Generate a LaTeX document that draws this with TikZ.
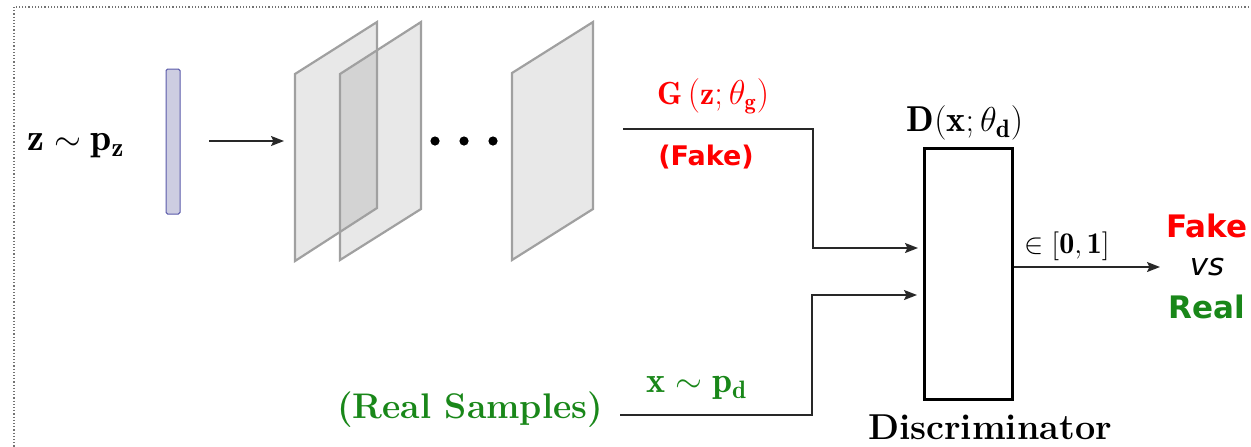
\documentclass[tikz,border=0pt]{standalone}
\usepackage{fontspec}
\usepackage{amsmath}
\newfontfamily\dejasans{DejaVu Sans}
\usetikzlibrary{arrows.meta}
\definecolor{fakered}{RGB}{255,0,0}
\definecolor{realgreen}{RGB}{25,135,25}
\definecolor{planeedge}{RGB}{160,160,160}
\definecolor{barfill}{RGB}{205,205,225}
\definecolor{baredge}{RGB}{90,90,170}
\definecolor{conn}{RGB}{40,40,40}
\tikzset{
  conline/.style={draw=conn, line width=0.8pt},
  arr/.style={conline, -{Stealth[length=6.5pt,width=5pt,inset=1.2pt]}},
  planefill/.style={fill=black, fill opacity=0.09, draw=none},
  planeline/.style={draw=planeedge, line width=1.1pt, line join=miter},
  big/.style={font=\fontsize{18}{21}\selectfont},
  sanslab/.style={font=\dejasans\bfseries\fontsize{15.5}{18}\selectfont},
}
\begin{document}
\begin{tikzpicture}[x=0.5pt,y=-0.5pt]
\useasboundingbox (0,0) rectangle (1251,446);
\begin{scope}
  \clip (0,0) rectangle (1251,446);
  \draw[gray!90!black, densely dotted, line width=0.6pt] (14,7) rectangle (1300,500);
\end{scope}

% generator input
\node[font=\fontsize{19}{22}\selectfont] (zlab) at (76,146) {$\mathbf{z}\sim\mathbf{p_z}$};
\node[draw=baredge, fill=barfill, line width=0.5pt, minimum width=7pt, minimum height=72.5pt, inner sep=0pt, rounded corners=0.8pt] (bar) at (173,141.5) {};
\coordinate (a1s) at (209,141);
\coordinate (a1e) at (284,141);
\draw[arr] (a1s) -- (a1e);

% feature planes
\path[planefill] (295,74) -- (377,22) -- (377,208) -- (295,261) -- cycle;
\path[planefill] (340,74) -- (421,22) -- (421,209) -- (340,260) -- cycle;
\path[planefill] (512,73) -- (593,22) -- (593,209) -- (512,260) -- cycle;
\draw[planeline] (295,74) -- (377,22) -- (377,208) -- (295,261) -- cycle;
\draw[planeline] (340,74) -- (421,22) -- (421,209) -- (340,260) -- cycle;
\draw[planeline] (512,73) -- (593,22) -- (593,209) -- (512,260) -- cycle;
\foreach \dx in {435,464,493} \fill (\dx,141) circle (2.3pt);

% generator output
\node[font=\fontsize{16}{19}\selectfont, text=fakered] (glab) at (713,96) {$\mathbf{G}\left(\mathbf{z};\theta_{\mathbf{g}}\right)$};
\node[font=\dejasans\bfseries\fontsize{13.5}{16}\selectfont, text=fakered] (fakelab) at (706,157) {(Fake)};

% real samples
\node[font=\bfseries\fontsize{17.8}{20}\selectfont, text=realgreen] (reallab) at (470,410) {(Real Samples)};
\node[big, text=realgreen] (xlab) at (697,388) {$\mathbf{x}\sim\mathbf{p_d}$};

% discriminator
\node[draw=black, line width=1.5pt, minimum width=44pt, minimum height=125.5pt, inner sep=0pt] (disc) at (968,273.5) {};
\node[big] (dlab) at (965,123) {$\mathbf{D}(\mathbf{x};\theta_{\mathbf{d}})$};
\node[font=\bfseries\fontsize{18}{21}\selectfont, inner sep=0pt, anchor=base] (disclab) at (990,439) {Discriminator};

% connectors
\coordinate (gs) at (623,129);
\coordinate (gk) at (813,129);
\coordinate (gin) at (918,248);
\draw[arr] (gs) -- (gk) |- (gin);
\coordinate (rs) at (620,415);
\coordinate (rk) at (812,415);
\coordinate (rin) at (917,295);
\draw[arr] (rs) -- (rk) |- (rin);

% output
\coordinate (outend) at (1160,267);
\draw[arr] (disc.east |- outend) -- (outend);
\node[font=\fontsize{15}{18}\selectfont] (rangelab) at (1067,246) {$\in[\mathbf{0},\mathbf{1}]$};
\node[sanslab, text=fakered] (fakeout) at (1207,226) {Fake};
\node[font=\dejasans\itshape\fontsize{15.5}{18}\selectfont] (vslab) at (1207,267) {vs};
\node[sanslab, text=realgreen] (realout) at (1207,307) {Real};
\end{tikzpicture}
\end{document}
